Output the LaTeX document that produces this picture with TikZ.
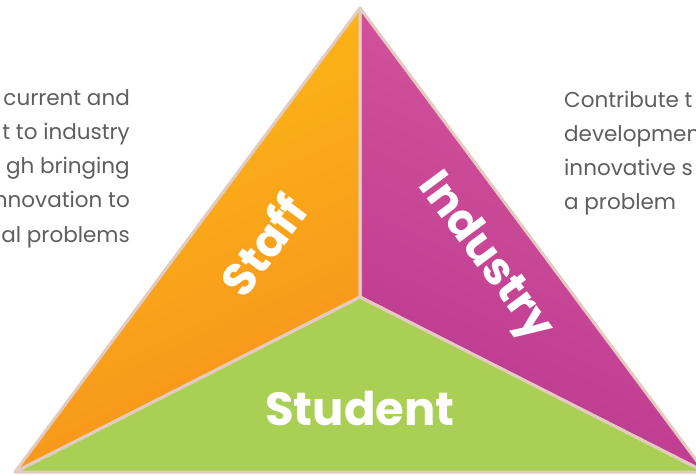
\documentclass[tikz,border=0pt]{standalone}
\usepackage{fontspec}
\setmainfont{Poppins}
\usetikzlibrary{positioning}
\definecolor{staffTop}{HTML}{FDBA14}
\definecolor{staffBot}{HTML}{F6921E}
\definecolor{indTop}{HTML}{D5569C}
\definecolor{indBot}{HTML}{BC3990}
\definecolor{studFill}{HTML}{A9CF54}
\definecolor{edge}{HTML}{E3CBC0}
\definecolor{note}{HTML}{5E5E5E}

\begin{document}
\begin{tikzpicture}[x=1pt,y=-1pt]
	\useasboundingbox (0,0) rectangle (696,475);
	\clip (0,0) rectangle (696,475);

	% corners
	\coordinate (top) at (360,8);
	\coordinate (mid) at (360,297);
	\coordinate (left) at (15,472);
	\coordinate (right) at (705,472);

	% parts
	\shade[top color=staffTop, bottom color=staffBot, shading angle=25] (top) -- (mid) -- (left) -- cycle;
	\shade[top color=indTop, bottom color=indBot, shading angle=-25] (top) -- (right) -- (mid) -- cycle;
	\fill[studFill] (left) -- (mid) -- (right) -- cycle;
	\foreach \a/\b/\c in {top/mid/left, top/right/mid, left/mid/right} {
	 \draw[edge, line width=3, line join=round] (\a) -- (\b) -- (\c) -- cycle;
	}

	% names
	\node[white, font=\fontsize{46}{46}\selectfont\bfseries, rotate=53.4] (staff) at (263,245) {Staff};
	\node[white, font=\fontsize{45}{45}\selectfont\bfseries, rotate=-53.4] (industry) at (484,258) {Industry};
	\node[white, font=\fontsize{46.5}{46.5}\selectfont\bfseries, anchor=base] (student) at (360,425) {Student};

	% notes
	\node[note, font=\fontsize{21.5}{34.25}\selectfont, align=right, anchor=base east, inner sep=0] (staffnote) at (130,242)
	 {current and\\t to industry\\gh bringing\\nnovation to\\al problems};
	\node[note, font=\fontsize{21.5}{34}\selectfont, align=left, anchor=base west, inner sep=0] (industrynote) at (564,209)
	 {Contribute t\\developmen\\innovative s\\a problem};
\end{tikzpicture}
\end{document}
